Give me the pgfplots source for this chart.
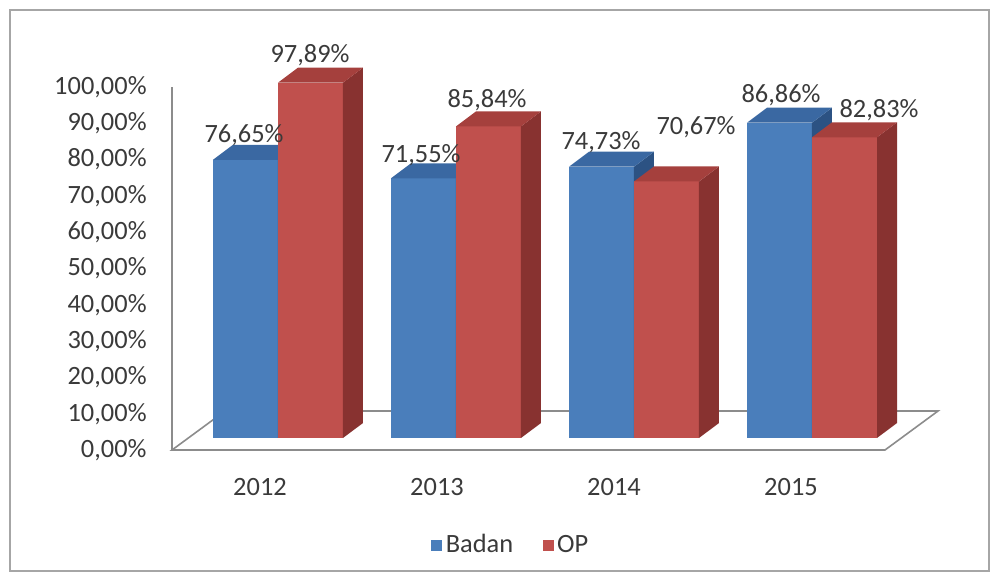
\documentclass[border=0pt]{standalone}
\usepackage{pgfplots}
\pgfplotsset{compat=1.18}
\usepackage{fontspec}
\setmainfont{Carlito}
\definecolor{bfront}{HTML}{4A7EBB}
\definecolor{btop}{HTML}{3A68A2}
\definecolor{bside}{HTML}{2C5283}
\definecolor{rfront}{HTML}{C0504D}
\definecolor{rtop}{HTML}{A5403D}
\definecolor{rside}{HTML}{883230}
\definecolor{txt}{HTML}{3A3A3A}
\definecolor{axgray}{HTML}{8C8C8C}
\definecolor{framegray}{HTML}{A6A6A6}
% #1 left x of front face, #2 value, #3 front, #4 top, #5 side
\newcommand\threedbar[5]{%
  \pgfmathsetmacro\xa{#1}\pgfmathsetmacro\xb{#1+65}%
  \pgfmathsetmacro\xc{#1+85}\pgfmathsetmacro\xd{#1+20}%
  \pgfmathsetmacro\T{3.31+#2}\pgfmathsetmacro\Tb{7.44+#2}%
  \edef\doit{%
    \noexpand\addplot[fill=#3,draw=none,forget plot] coordinates {(\xa,3.31) (\xb,3.31) (\xb,\T) (\xa,\T)} -- cycle;
    \noexpand\addplot[fill=#5,draw=none,forget plot] coordinates {(\xb,3.31) (\xc,7.44) (\xc,\Tb) (\xb,\T)} -- cycle;
    \noexpand\addplot[fill=#4,draw=none,forget plot] coordinates {(\xa,\T) (\xb,\T) (\xc,\Tb) (\xd,\Tb)} -- cycle;
  }\doit}
\begin{document}
\begin{tikzpicture}
\begin{axis}[
  x=0.5pt, y=1.815pt,
  xmin=0, xmax=766, ymin=0, ymax=100,
  clip=false,
  axis lines*=left,
  x axis line style={draw=none},
  y axis line style={draw=axgray, line width=0.8pt},
  ytick={0,10,...,100},
  yticklabels={{0,00\%},{10,00\%},{20,00\%},{30,00\%},{40,00\%},{50,00\%},{60,00\%},{70,00\%},{80,00\%},{90,00\%},{100,00\%}},
  major tick length=0pt,
  yticklabel style={anchor=east, inner sep=0pt, xshift=-12.5pt},
  xtick={88,265,442,619},
  xticklabels={2012,2013,2014,2015},
  xticklabel style={anchor=center, inner sep=0pt, yshift=-18.5pt},
  tick label style={font=\fontsize{13.2}{15}\selectfont, text=txt},
  /pgf/number format/assume math mode=true,
  legend style={at={(0.4439,-0.2617)}, anchor=center, draw=none, fill=none,
    legend columns=2, font=\fontsize{13.2}{15}\selectfont, text=txt,
    /tikz/every even column/.append style={column sep=13pt}},
]
% frame and bounding box
\path (axis cs:-172,-34.71) rectangle (axis cs:820,123.97);
\draw[framegray, line width=0.8pt] (axis cs:-162,121.21) rectangle (axis cs:817,-33.33);
% floor
\addplot[draw=axgray, line width=0.8pt, fill=white, forget plot] coordinates {(0,0) (713,0) (766,10.74) (53,10.74)} -- cycle;
% bars: Badan / OP
\threedbar{41}{76.65}{bfront}{btop}{bside}
\threedbar{106}{97.89}{rfront}{rtop}{rside}
\threedbar{219}{71.55}{bfront}{btop}{bside}
\threedbar{284}{85.84}{rfront}{rtop}{rside}
\threedbar{397}{74.73}{bfront}{btop}{bside}
\threedbar{462}{70.67}{rfront}{rtop}{rside}
\threedbar{575}{86.86}{bfront}{btop}{bside}
\threedbar{640}{82.83}{rfront}{rtop}{rside}
% value labels
\addplot[draw=none, forget plot, nodes near coords={\pgfplotspointmeta\%},
  point meta=explicit symbolic,
  every node near coord/.append style={anchor=center, inner sep=0pt, font=\fontsize{13.2}{15}\selectfont, text=txt}]
  table[meta=t] {
x y t
72 86.78 76,65
138 108.82 97,89
249 81.27 71,55
315 96.42 85,84
429 84.85 74,73
524 88.98 70,67
609 97.80 86,86
707 93.60 82,83
};
\addlegendimage{only marks, mark=square*, mark size=2.5pt, color=bfront}
\addlegendentry{Badan}
\addlegendimage{only marks, mark=square*, mark size=2.5pt, color=rfront}
\addlegendentry{OP}
\end{axis}
\end{tikzpicture}
\end{document}
